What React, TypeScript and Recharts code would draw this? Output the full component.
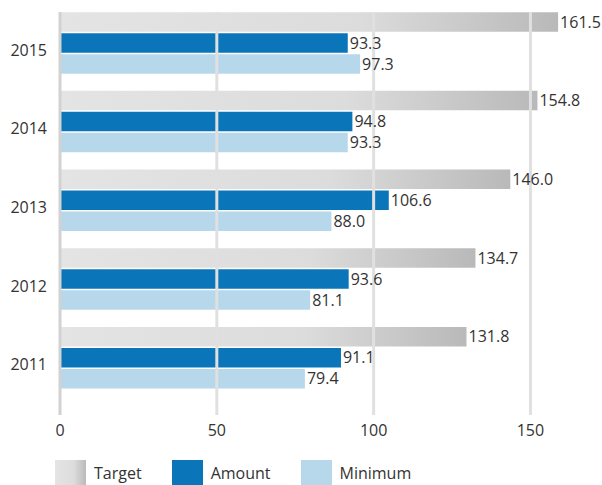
import { BarChart, Bar, XAxis, YAxis, ReferenceLine, LabelList, Legend } from "recharts";

const years = ["2015", "2014", "2013", "2012", "2011"];
const targetValues = [161.5, 154.8, 146.0, 134.7, 131.8];
const amountValues = [93.3, 94.8, 106.6, 93.6, 91.1];
const minimumValues = [97.3, 93.3, 88.0, 81.1, 79.4];
const axisTicks = [0, 50, 100, 150];

const data = years.map((year, i) => ({
    year,
    target: targetValues[i],
    amount: amountValues[i],
    minimum: minimumValues[i],
}));

const FONT = "'Open Sans', sans-serif";
const TEXT = "#333333";
const AMOUNT_BLUE = "#0a76b9";
const MIN_BLUE = "#b7d7eb";
const GRID = "#e0e0e0";

const legendItems = [
    { label: "Target", fill: "linear-gradient(to right, #e4e4e4 0%, #dddddd 60%, #bababa 100%)" },
    { label: "Amount", fill: AMOUNT_BLUE },
    { label: "Minimum", fill: MIN_BLUE },
];

function ChartLegend() {
    return (
        <div style={{ display: "flex", alignItems: "center", fontFamily: FONT, fontSize: 16, color: TEXT }}>
            {legendItems.map((item) => (
                <div key={item.label} style={{ display: "flex", alignItems: "center", marginRight: 30 }}>
                    <span style={{ width: 31, height: 25, background: item.fill, marginRight: 8, display: "inline-block" }} />
                    <span>{item.label}</span>
                </div>
            ))}
        </div>
    );
}

function YearTick({ x, y, payload }: any) {
    return (
        <text x={x} y={y} dy={13} textAnchor="end" fill={TEXT} fontSize={16} fontFamily={FONT}>
            {payload.value}
        </text>
    );
}

const fmt = (v: any) => Number(v).toFixed(1);

export default function App() {
    return (
        <div style={{ position: "absolute", left: 0, top: 0 }}>
            <BarChart
                width={602}
                height={485}
                data={data}
                layout="vertical"
                margin={{ top: 12, right: 22, bottom: 15, left: 0 }}
                barSize={19.5}
                barGap={1.5}
                style={{ fontFamily: FONT }}
            >
                <defs>
                    <linearGradient id="targetFill" x1="0" y1="0" x2="1" y2="0">
                        <stop offset="0%" stopColor="#e4e4e4" />
                        <stop offset="60%" stopColor="#dcdcdc" />
                        <stop offset="100%" stopColor="#b9b9b9" />
                    </linearGradient>
                </defs>
                <XAxis xAxisId="bars" type="number" domain={[0, 168.6]} allowDataOverflow hide height={0} />
                <XAxis
                    xAxisId="ticks"
                    type="number"
                    domain={[0, 165.8]}
                    allowDataOverflow
                    ticks={axisTicks}
                    axisLine={false}
                    tickLine={false}
                    tickMargin={4}
                    height={30}
                    tick={{ fill: TEXT, fontSize: 16, fontFamily: FONT }}
                />
                <YAxis
                    type="category"
                    dataKey="year"
                    width={60}
                    axisLine={false}
                    tickLine={false}
                    tickMargin={7}
                    padding={{ top: -8.85, bottom: 18.35 }}
                    tick={<YearTick />}
                />
                <Bar xAxisId="bars" dataKey="target" name="Target" fill="url(#targetFill)" isAnimationActive={false}>
                    <LabelList dataKey="target" position="right" offset={2} formatter={fmt} fill={TEXT} fontSize={16} fontFamily={FONT} />
                </Bar>
                <Bar xAxisId="bars" dataKey="amount" name="Amount" fill={AMOUNT_BLUE} isAnimationActive={false}>
                    <LabelList dataKey="amount" position="right" offset={2} formatter={fmt} fill={TEXT} fontSize={16} fontFamily={FONT} />
                </Bar>
                <Bar xAxisId="bars" dataKey="minimum" name="Minimum" fill={MIN_BLUE} isAnimationActive={false}>
                    <LabelList dataKey="minimum" position="right" offset={2} formatter={fmt} fill={TEXT} fontSize={16} fontFamily={FONT} />
                </Bar>
                {axisTicks.map((t) => (
                    <ReferenceLine key={t} xAxisId="ticks" x={t} stroke={t === 0 ? "#d2d2d2" : GRID} strokeWidth={3} zIndex={600} />
                ))}
                <Legend
                    verticalAlign="bottom"
                    align="left"
                    content={<ChartLegend />}
                    wrapperStyle={{ left: 55, bottom: 0, width: "auto" }}
                />
            </BarChart>
        </div>
    );
}
